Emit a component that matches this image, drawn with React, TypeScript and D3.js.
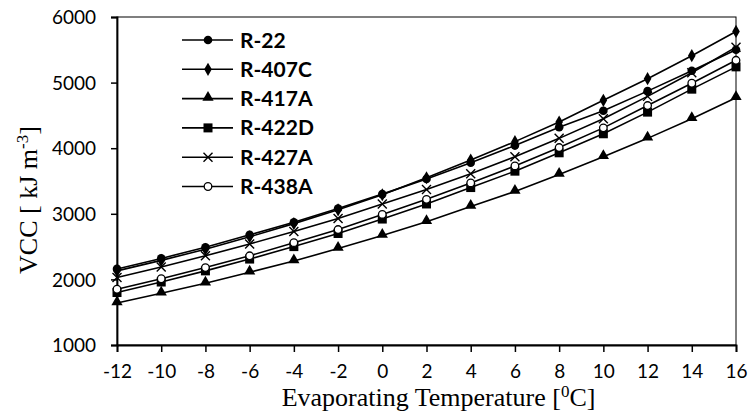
import React, {useEffect, useRef} from 'react';
import * as d3 from 'd3';

// evaporating temperature (deg C)
const temps = [-12, -10, -8, -6, -4, -2, 0, 2, 4, 6, 8, 10, 12, 14, 16];

// VCC values [kJ m-3]
const r22 = [2160, 2320, 2490, 2680, 2870, 3080, 3300, 3530, 3780, 4040, 4320, 4570, 4870, 5180, 5500];
const r407c = [2130, 2290, 2460, 2650, 2850, 3060, 3290, 3550, 3820, 4100, 4400, 4730, 5060, 5410, 5780];
const r417a = [1640, 1790, 1940, 2110, 2280, 2470, 2670, 2880, 3110, 3340, 3600, 3870, 4150, 4450, 4770];
const r422d = [1800, 1960, 2130, 2310, 2500, 2700, 2920, 3150, 3400, 3650, 3930, 4220, 4550, 4900, 5240];
const r427a = [2030, 2190, 2360, 2540, 2730, 2930, 3150, 3370, 3610, 3870, 4150, 4450, 4790, 5150, 5540];
const r438a = [1850, 2010, 2180, 2360, 2560, 2760, 2990, 3220, 3470, 3730, 4010, 4310, 4650, 4990, 5340];

const seriesNames = ['R-22', 'R-407C', 'R-417A', 'R-422D', 'R-427A', 'R-438A'];
const seriesValues = [r22, r407c, r417a, r422d, r427a, r438a];
const markerKinds = ['circle', 'diamond', 'triangle', 'square', 'cross', 'open'];

const xTicks = temps;
const yTicks = [1000, 2000, 3000, 4000, 5000, 6000];

const App = () => {
  const ref = useRef<SVGSVGElement>(null);

  useEffect(() => {
    const svg = d3.select(ref.current);
    svg.selectAll('*').remove();

    const width = 751;
    const height = 416;
    const margin = {top: 17, right: 15, bottom: 71, left: 117};

    const x = d3.scaleLinear().domain([-12, 16]).range([margin.left, width - margin.right]);
    const y = d3.scaleLinear().domain([1000, 6000]).range([height - margin.bottom, margin.top]);

    // plot frame
    svg.append('rect')
      .attr('x', x(-12)).attr('y', y(6000))
      .attr('width', x(16) - x(-12)).attr('height', y(1000) - y(6000))
      .attr('fill', 'none').attr('stroke', '#000').attr('stroke-width', 1);

    const xAxis = svg.append('g')
      .attr('transform', `translate(0,${y(1000)})`)
      .call(d3.axisBottom(x).tickValues(xTicks).tickSize(7).tickFormat(d => String(d)));
    const yAxis = svg.append('g')
      .attr('transform', `translate(${x(-12)},0)`)
      .call(d3.axisLeft(y).tickValues(yTicks).tickSize(6).tickFormat(d => String(d)));

    [xAxis, yAxis].forEach(ax => {
      ax.select('.domain').attr('stroke-width', 1.8);
      ax.selectAll('.tick line').attr('stroke-width', 1.5);
      ax.selectAll('text')
        .attr('font-family', 'Lato, sans-serif')
        .attr('font-size', 19)
        .attr('fill', '#000');
    });
    xAxis.selectAll('text').attr('dy', '1.2em');
    yAxis.selectAll('text').attr('dy', '0.35em').attr('x', -21);

    // axis titles
    svg.append('text')
      .attr('x', (x(-12) + x(16)) / 2 + 12)
      .attr('y', 406)
      .attr('text-anchor', 'middle')
      .attr('font-family', '"Liberation Serif", serif')
      .attr('font-size', 26)
      .html('Evaporating Temperature [<tspan dy="-9" font-size="17">0</tspan><tspan dy="9">C]</tspan>');

    svg.append('text')
      .attr('transform', `translate(37,${200}) rotate(-90)`)
      .attr('text-anchor', 'middle')
      .attr('font-family', '"Liberation Serif", serif')
      .attr('font-size', 26)
      .html('VCC [ kJ m<tspan dy="-9" font-size="17">-3</tspan><tspan dy="9">]</tspan>');

    const drawMarker = (g: d3.Selection<SVGGElement, unknown, null, undefined>, kind: string, cx: number, cy: number) => {
      if (kind === 'circle') {
        g.append('circle').attr('cx', cx).attr('cy', cy).attr('r', 4.3).attr('fill', '#000');
      } else if (kind === 'open') {
        g.append('circle').attr('cx', cx).attr('cy', cy).attr('r', 3.8).attr('fill', '#fff').attr('stroke', '#000').attr('stroke-width', 1.3);
      } else if (kind === 'diamond') {
        g.append('path').attr('d', d3.symbol(d3.symbolDiamond, 50)()).attr('transform', `translate(${cx},${cy})`).attr('fill', '#000');
      } else if (kind === 'triangle') {
        g.append('path').attr('d', d3.symbol(d3.symbolTriangle, 55)()).attr('transform', `translate(${cx},${cy - 1})`).attr('fill', '#000');
      } else if (kind === 'square') {
        g.append('rect').attr('x', cx - 4.5).attr('y', cy - 4.5).attr('width', 9).attr('height', 9).attr('fill', '#000');
      } else if (kind === 'cross') {
        g.append('path')
          .attr('d', `M${cx - 4.5},${cy - 4.5}L${cx + 4.5},${cy + 4.5}M${cx - 4.5},${cy + 4.5}L${cx + 4.5},${cy - 4.5}`)
          .attr('stroke', '#000').attr('stroke-width', 1.4).attr('fill', 'none');
      }
    };

    const line = d3.line<number>()
      .x((_, i) => x(temps[i]))
      .y(d => y(d));

    seriesValues.forEach((vals, si) => {
      const g = svg.append('g');
      g.append('path')
        .attr('d', line(vals))
        .attr('fill', 'none')
        .attr('stroke', '#000')
        .attr('stroke-width', 1.6);
      vals.forEach((v, i) => drawMarker(g, markerKinds[si], x(temps[i]), y(v)));
    });

    // legend
    const legend = svg.append('g');
    seriesNames.forEach((name, i) => {
      const ly = 40 + i * 29.3;
      const g = legend.append('g');
      g.append('line')
        .attr('x1', 182).attr('x2', 233).attr('y1', ly).attr('y2', ly)
        .attr('stroke', '#000').attr('stroke-width', 1.6);
      drawMarker(g, markerKinds[i], 208, ly);
      g.append('text')
        .attr('x', 240).attr('y', ly)
        .attr('dy', '0.36em')
        .attr('font-family', 'Lato, sans-serif')
        .attr('font-weight', 'bold')
        .attr('font-size', 21)
        .text(name);
    });
  }, []);

  return (
    <svg ref={ref} width={751} height={416} style={{position: 'absolute', left: 0, top: 0, background: '#fff'}} />
  );
};

export default App;
